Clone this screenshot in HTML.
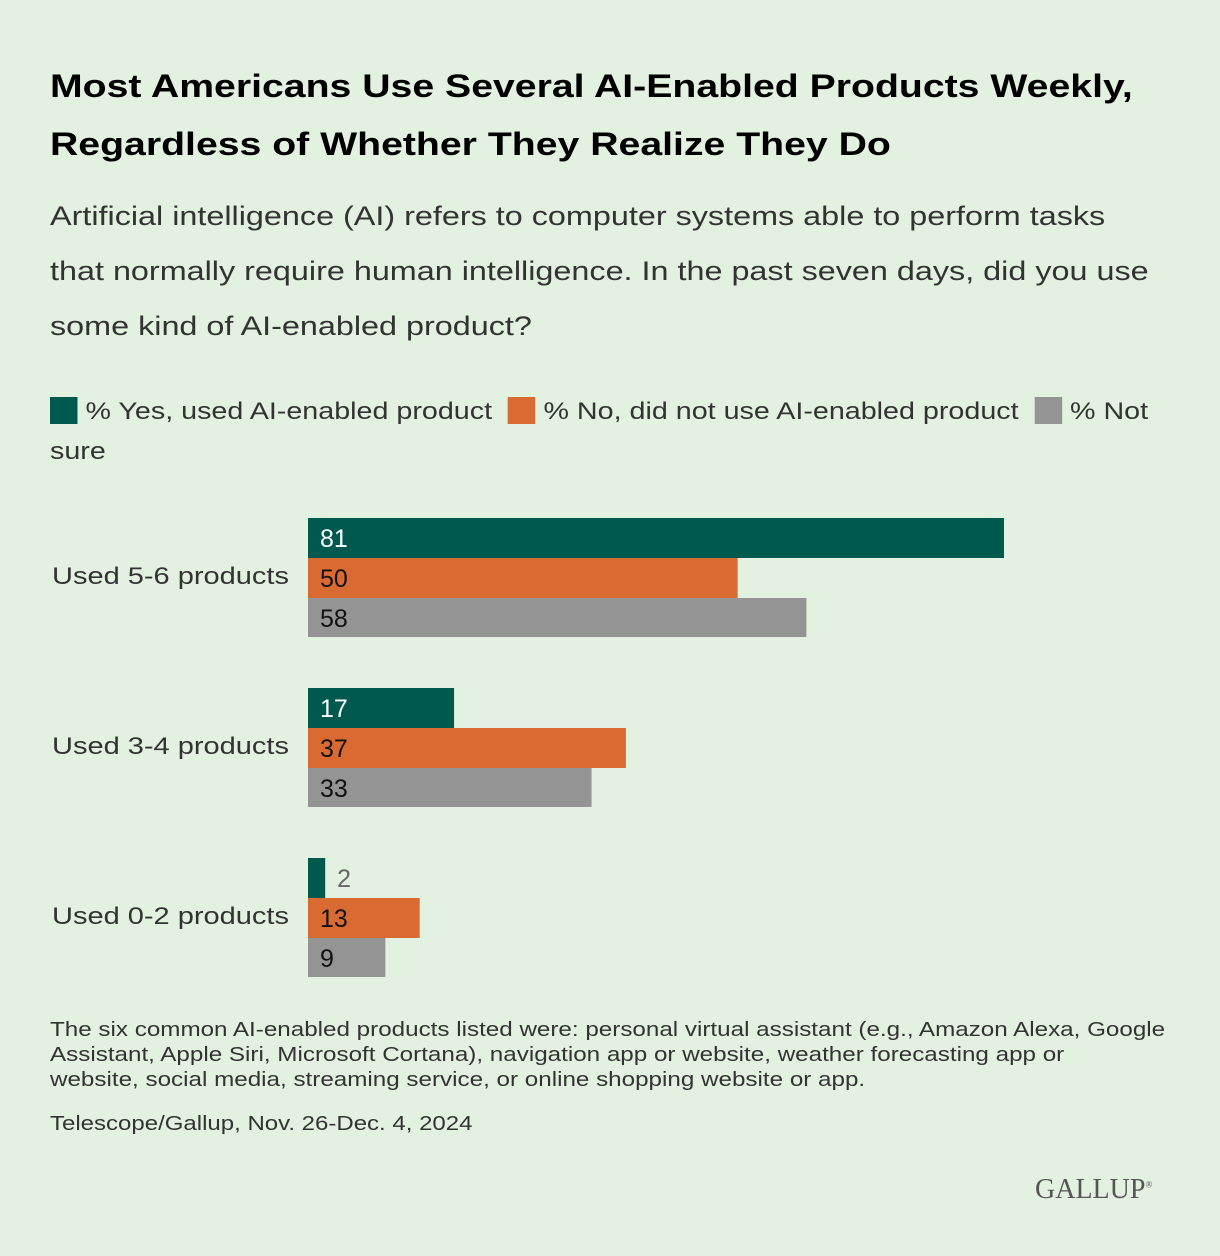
<!DOCTYPE html>
<html><head><meta charset="utf-8"><style>
body{margin:0;width:1220px;height:1256px;background:#e3f1e1;font-family:"Liberation Sans",sans-serif;position:relative;overflow:hidden;color:#222}
.t{position:absolute;white-space:nowrap;transform-origin:0 0}
</style></head><body>
<div class="t" style="left:50px;top:57px;font-size:32px;font-weight:bold;line-height:58px;color:#000;transform:scaleX(1.225)">Most Americans Use Several AI-Enabled Products Weekly,<br>Regardless of Whether They Realize They Do</div>
<div class="t" style="left:50px;top:189px;font-size:27px;line-height:55px;color:#333;transform:scaleX(1.198)">Artificial intelligence (AI) refers to computer systems able to perform tasks<br>that normally require human intelligence. In the past seven days, did you use<br>some kind of AI-enabled product?</div>
<div class="t" style="left:50px;top:392px;font-size:24px;line-height:40px;color:#333;transform:scaleX(1.195)">
<span><span style="display:inline-block;width:23px;height:27px;background:#00594f;vertical-align:-5px"></span> % Yes, used AI-enabled product</span>&nbsp;
<span><span style="display:inline-block;width:23px;height:27px;background:#d96a32;vertical-align:-5px"></span> % No, did not use AI-enabled product</span>&nbsp;
<span><span style="display:inline-block;width:23px;height:27px;background:#949494;vertical-align:-5px"></span> % Not</span><br>sure</div>
<svg id="chart" width="1220" height="1000" style="position:absolute;left:0;top:0"></svg>
<div class="t" style="left:50px;top:1018px;font-size:20px;line-height:25px;color:#333;transform:scaleX(1.21)">The six common AI-enabled products listed were: personal virtual assistant (e.g., Amazon Alexa, Google<br>Assistant, Apple Siri, Microsoft Cortana), navigation app or website, weather forecasting app or<br>website, social media, streaming service, or online shopping website or app.</div>
<div class="t" style="left:50px;top:1113px;font-size:20px;color:#333;transform:scaleX(1.2)">Telescope/Gallup, Nov. 26-Dec. 4, 2024</div>
<div class="t" style="left:1035px;top:1174px;font-size:28px;font-family:'Liberation Serif',serif;color:#555">GALLUP<sup style="font-size:9px">®</sup></div>
<script>
const categories=["Used 5-6 products","Used 3-4 products","Used 0-2 products"];
const yesValues=[81,17,2];
const noValues=[50,37,13];
const notSureValues=[58,33,9];
const svg=document.getElementById('chart');
const NS='http://www.w3.org/2000/svg';
const x0=308,scale=696/81;
const xs=v=>v*scale;
const series=[{vals:yesValues,color:'#00594f',txt:'#fff',name:'yes'},{vals:noValues,color:'#d96a32',txt:'#111',name:'no'},{vals:notSureValues,color:'#949494',txt:'#111',name:'not-sure'}];
categories.forEach((c,i)=>{
  const gy=518+i*170;
  const l=document.createElementNS(NS,'text');
  
  
  l.setAttribute('x',52);l.setAttribute('y',gy+66);l.setAttribute('font-size','24');l.setAttribute('fill','#333');
  l.setAttribute('textLength','237');l.setAttribute('lengthAdjust','spacingAndGlyphs');
  l.textContent=c;svg.appendChild(l);
  series.forEach((s,j)=>{
    const y=gy+j*40,w=xs(s.vals[i]);
    const r=document.createElementNS(NS,'rect');
    
    
    r.setAttribute('x',x0);r.setAttribute('y',y);r.setAttribute('width',w);r.setAttribute('height',j==2?39:40);r.setAttribute('fill',s.color);
    svg.appendChild(r);
    const t=document.createElementNS(NS,'text');
    
    
    const inside=w>40;
    t.setAttribute('x',inside?x0+12:x0+w+12);t.setAttribute('y',y+29);t.setAttribute('font-size','25');
    t.setAttribute('fill',inside?s.txt:'#666');
    t.textContent=s.vals[i];svg.appendChild(t);
  });
});
</script>
</body></html>
